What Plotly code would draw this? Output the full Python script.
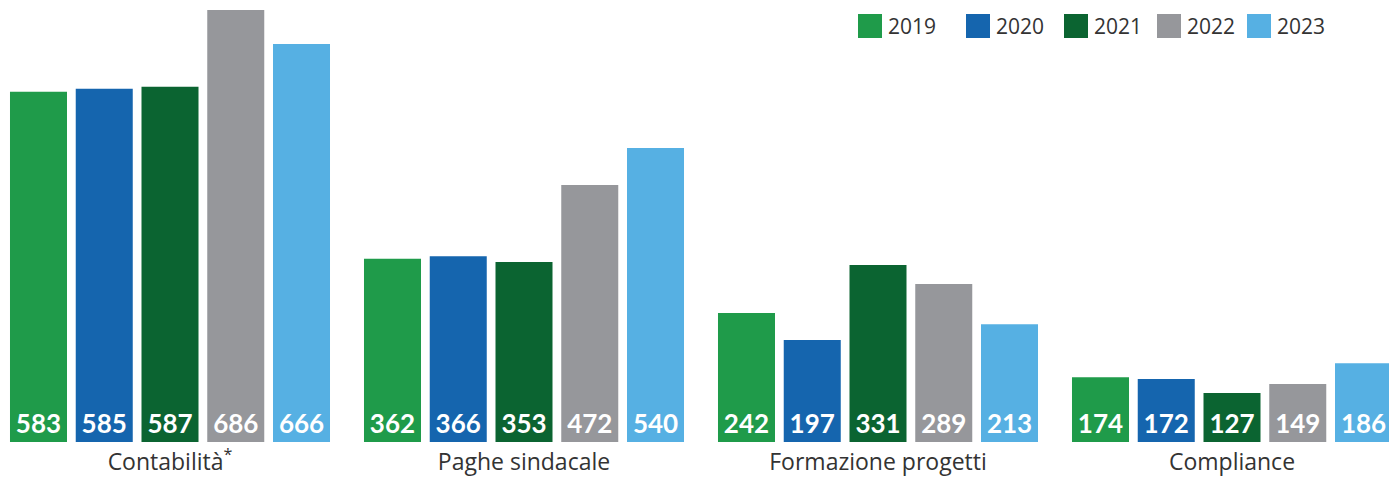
import plotly.graph_objects as go

categories = ["Contabilità<sup>*</sup>", "Paghe sindacale", "Formazione progetti", "Compliance"]
years = ["2019", "2020", "2021", "2022", "2023"]
colors = ["#1F9B4A", "#1565AE", "#0B6431", "#96979B", "#56B0E3"]

# labelled values (as printed on the bars)
labels_2019 = [583, 362, 242, 174]
labels_2020 = [585, 366, 197, 172]
labels_2021 = [587, 353, 331, 127]
labels_2022 = [686, 472, 289, 149]
labels_2023 = [666, 540, 213, 186]

# bar heights as drawn in the picture (same units, calibrated on the 686 bar)
heights_2019 = [556, 291, 205, 103]
heights_2020 = [561, 295, 162, 100]
heights_2021 = [564, 286, 281, 78]
heights_2022 = [686, 408, 251, 92]
heights_2023 = [632, 467, 187, 125]

labels = [labels_2019, labels_2020, labels_2021, labels_2022, labels_2023]
heights = [heights_2019, heights_2020, heights_2021, heights_2022, heights_2023]

W, H = 1389, 477
NUM_FONT = "Lato"
TXT_FONT = "Open Sans"

fig = go.Figure()
for yr, col, h, lab in zip(years, colors, heights, labels):
    fig.add_trace(go.Bar(
        x=categories, y=h, name=yr, marker=dict(color=col, line=dict(width=0)),
        text=[str(v) for v in lab], textposition="inside", insidetextanchor="start",
        textangle=0, constraintext="none",
        insidetextfont=dict(family=NUM_FONT, size=26, color="white", weight="bold"),
        showlegend=False, hoverinfo="skip",
    ))

# legend drawn manually (large square swatches)
plot_h = 442
leg_x = [858, 966, 1064, 1157, 1247]
sq = 24
sq_top = 14
shapes = []
annotations = []
for yr, col, lx in zip(years, colors, leg_x):
    shapes.append(dict(type="rect", xref="paper", yref="paper",
                       x0=lx / W, x1=(lx + sq) / W,
                       y0=(plot_h - sq_top - sq) / plot_h, y1=(plot_h - sq_top) / plot_h,
                       fillcolor=col, line=dict(width=0)))
    annotations.append(dict(xref="paper", yref="paper", x=(lx + sq + 4) / W,
                            y=(plot_h - sq_top - sq / 2) / plot_h,
                            text=yr, showarrow=False, xanchor="left", yanchor="middle",
                            font=dict(family=TXT_FONT, size=21, color="#333333")))

fig.update_layout(
    width=W, height=H,
    margin=dict(l=0, r=0, t=0, b=H - plot_h, pad=0),
    paper_bgcolor="white", plot_bgcolor="white",
    barmode="group", bargap=0.0713, bargroupgap=0.133,
    xaxis=dict(range=[-170 / 354, (W - 170) / 354], showgrid=False, zeroline=False,
               showline=False, ticks="", ticklabelstandoff=4,
               tickfont=dict(family=TXT_FONT, size=23, color="#333333"),
               fixedrange=True),
    yaxis=dict(range=[0, plot_h * 686 / 432], visible=False, fixedrange=True),
    shapes=shapes, annotations=annotations,
    showlegend=False,
)

fig.write_html("out.html", config={"displayModeBar": False},
               post_script="document.body.style.margin='0';")
